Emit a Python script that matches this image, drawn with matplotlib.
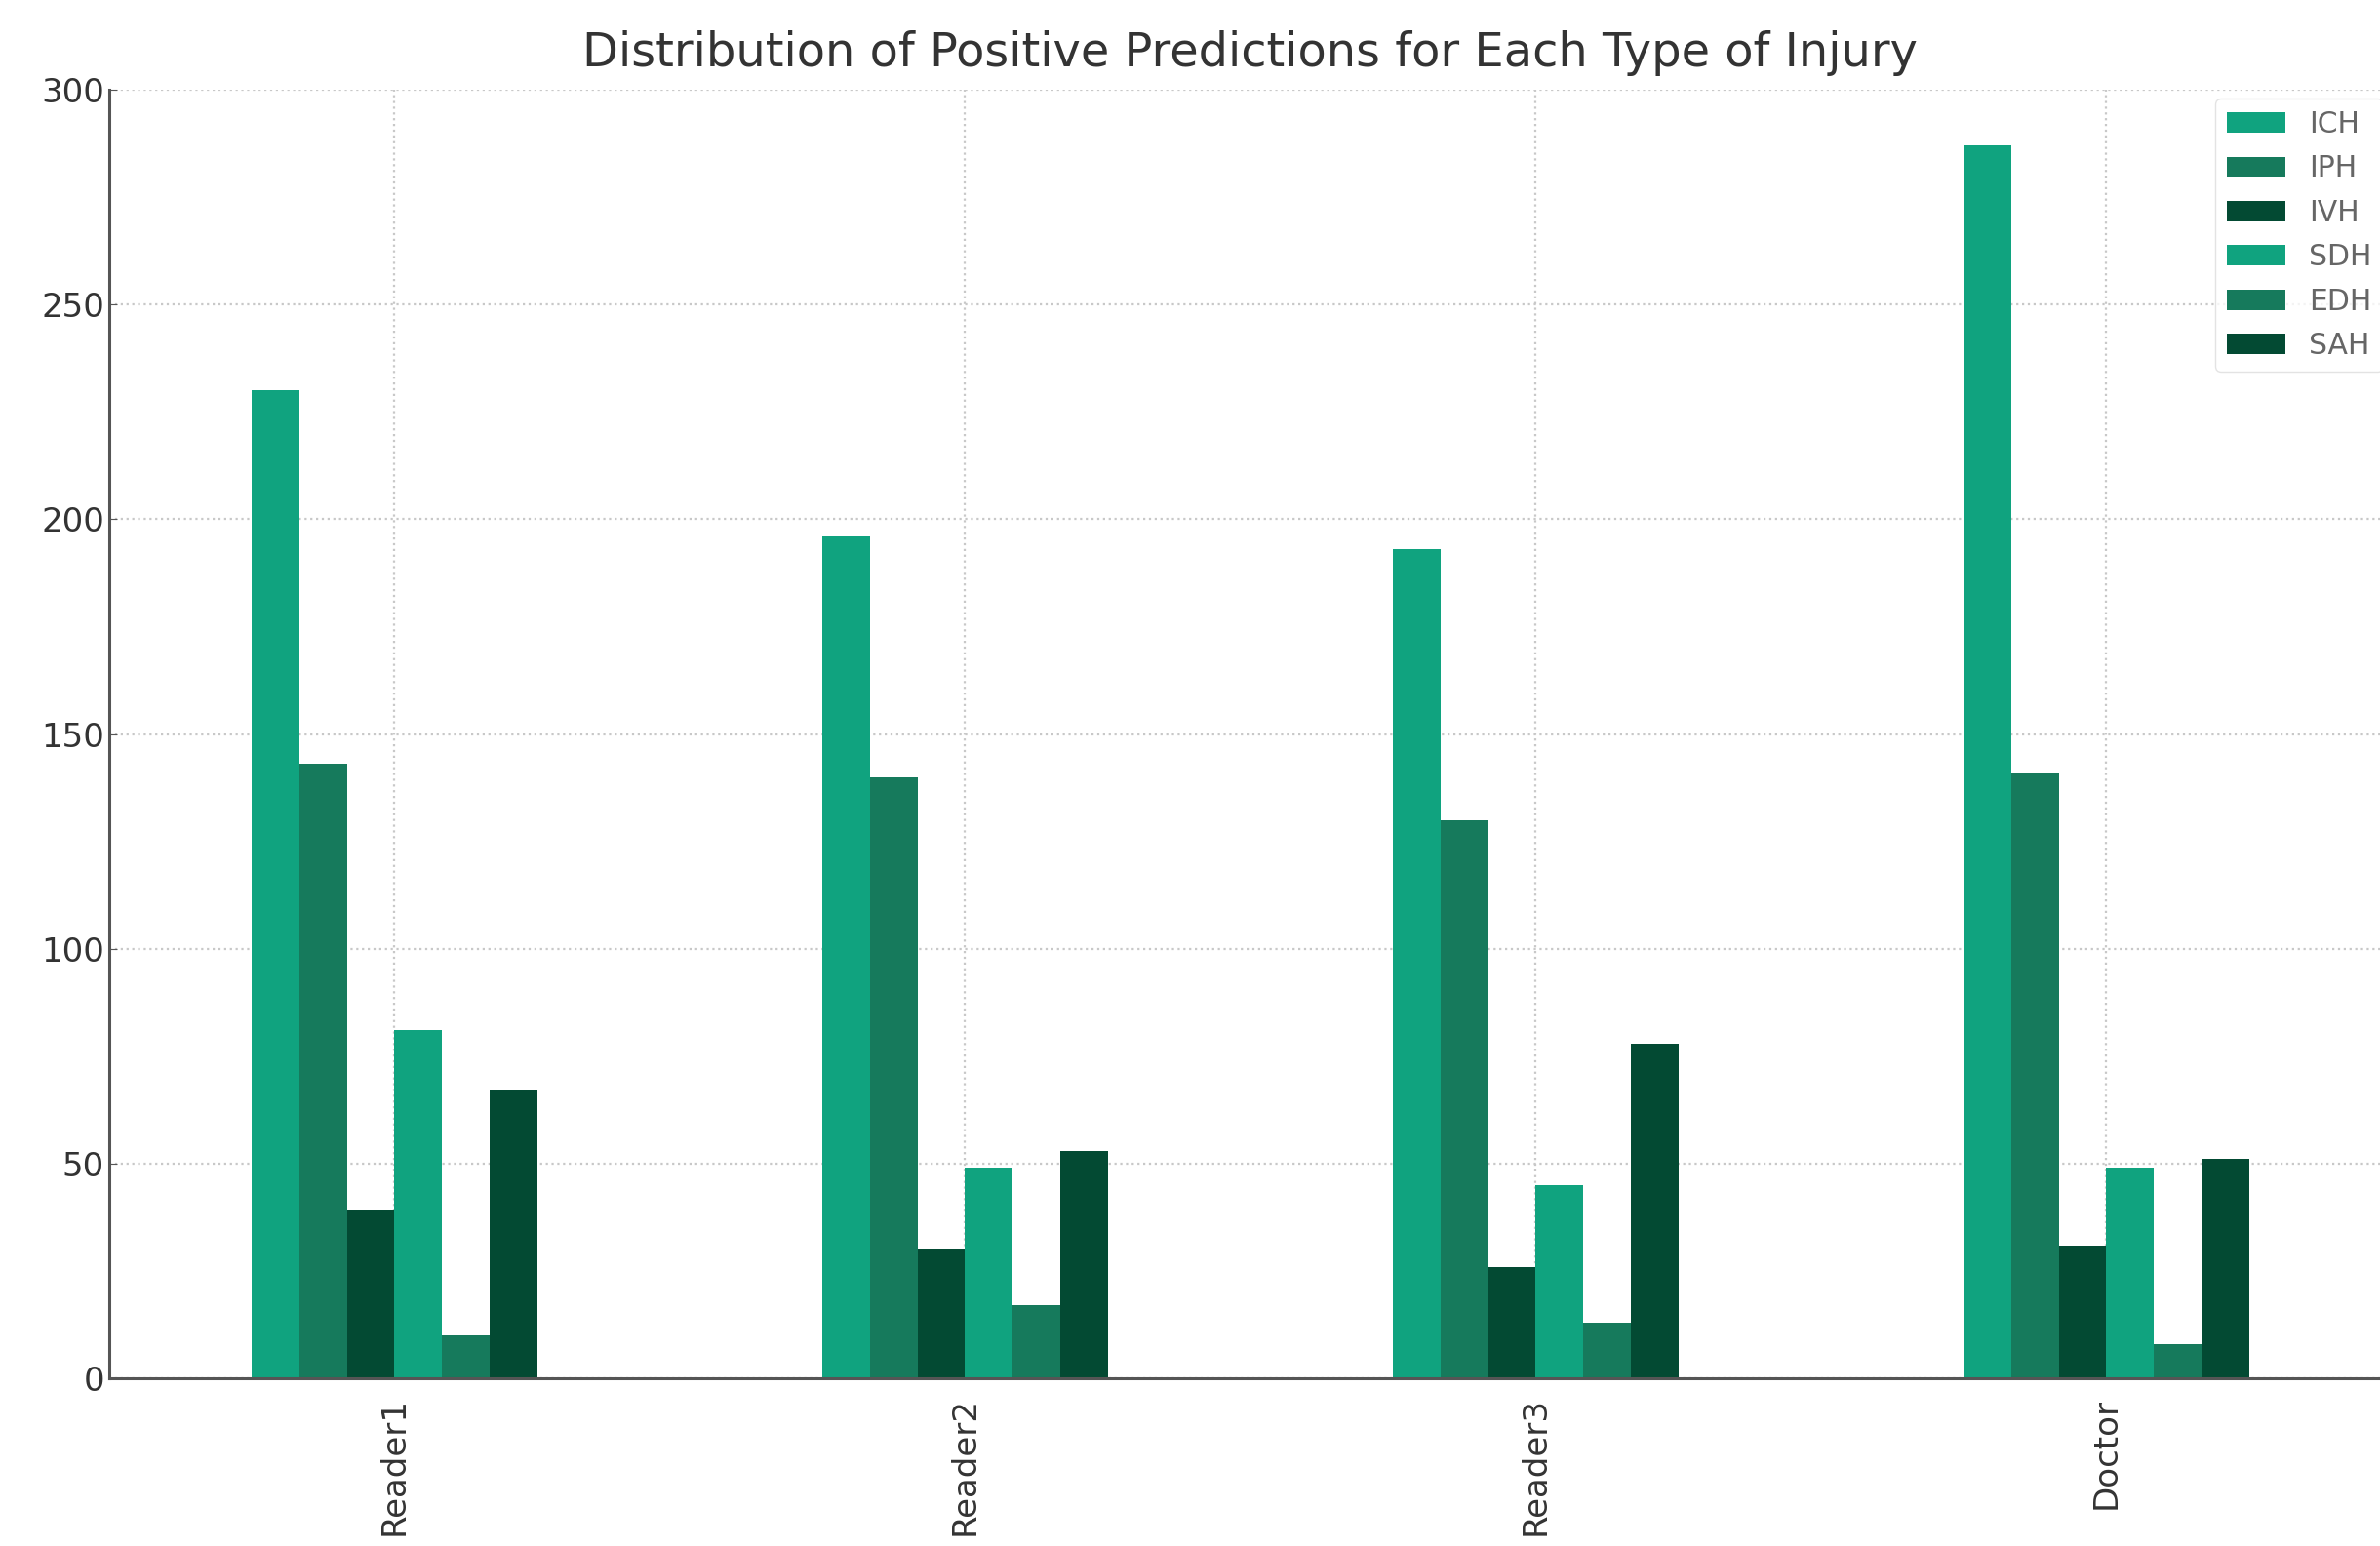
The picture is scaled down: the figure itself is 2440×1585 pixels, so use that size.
import pandas as pd
import matplotlib
matplotlib.use('Agg')
import matplotlib.pyplot as plt

readers = ['Reader1', 'Reader2', 'Reader3', 'Doctor']
ich = [230, 196, 193, 287]
iph = [143, 140, 130, 141]
ivh = [39, 30, 26, 31]
sdh = [81, 49, 45, 49]
edh = [10, 17, 13, 8]
sah = [67, 53, 78, 51]

colors = ['#10a37f', '#167a5c', '#034a33', '#10a37f', '#167a5c', '#034a33']


def main():
    df = pd.DataFrame({'ICH': ich, 'IPH': iph, 'IVH': ivh,
                       'SDH': sdh, 'EDH': edh, 'SAH': sah}, index=readers)

    fig = plt.figure(figsize=(24.4, 15.85), dpi=100)
    ax = fig.add_axes([0.0459, 0.1085, 0.959, 0.8334])
    df.plot(kind='bar', ax=ax, color=colors, width=0.5)

    ax.set_ylim(0, 300)
    ax.set_title('Distribution of Positive Predictions for Each Type of Injury',
                 fontsize=34.5, color='#333333', pad=17)
    ax.grid(True, linestyle=':', color='#c8c8c8', linewidth=1.6)
    ax.set_axisbelow(True)
    for side in ['top', 'right']:
        ax.spines[side].set_visible(False)
    for side in ['left', 'bottom']:
        ax.spines[side].set_color('#555555')
        ax.spines[side].set_linewidth(2.2)
    ax.tick_params(axis='y', labelsize=24.5, labelcolor='#333333',
                   direction='in', length=6, color='#555555')
    ax.tick_params(axis='x', labelsize=24.5, labelcolor='#333333', length=0, pad=14)
    plt.setp(ax.get_xticklabels(), rotation=90)

    leg = ax.legend(loc='upper right', fontsize=21.5, frameon=True,
                    labelspacing=0.55, borderaxespad=0.3)
    leg.get_frame().set_edgecolor('#dddddd')
    for t in leg.get_texts():
        t.set_color('#666666')

    fig.savefig('out.png', dpi=100, facecolor='white')


if __name__ == '__main__':
    main()
